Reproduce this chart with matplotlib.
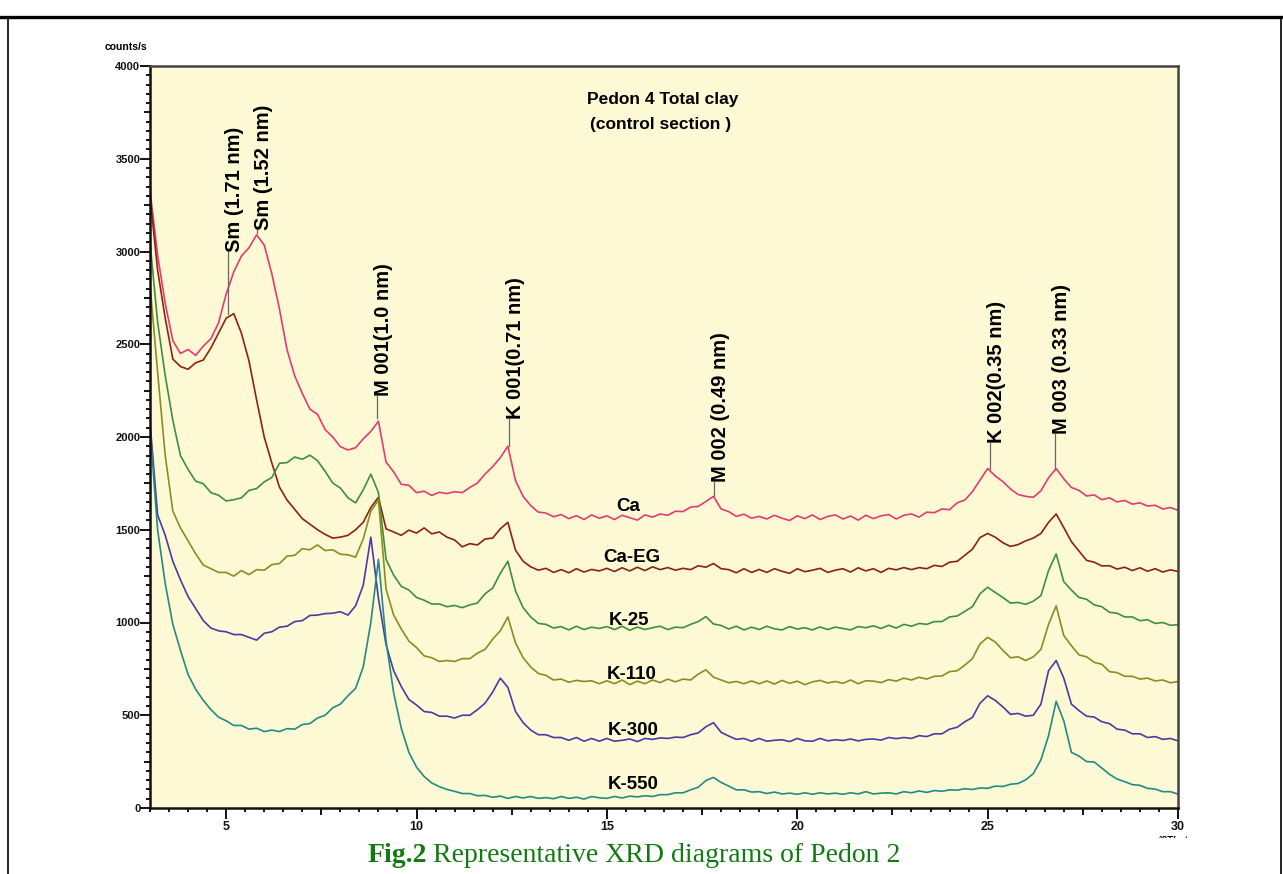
import numpy as np
import matplotlib
matplotlib.use("Agg")
import matplotlib.pyplot as plt
from matplotlib.lines import Line2D
from matplotlib.patches import Rectangle
from matplotlib.ticker import MultipleLocator, FuncFormatter

plt.rcParams['font.family'] = ['Liberation Sans', 'DejaVu Sans']

# scan grid, degrees 2-theta (0.2 step)
two_theta = np.round(np.arange(3.0, 30.001, 0.2), 1)

ca = [3330, 2980, 2720, 2520, 2450, 2472, 2440, 2490, 2530, 2615,
      2770, 2890, 2975, 3020, 3090, 3035, 2880, 2690, 2470, 2330,
      2235, 2150, 2122, 2040, 2000, 1948, 1930, 1942, 1990, 2030,
      2085, 1865, 1812, 1745, 1740, 1700, 1708, 1685, 1702, 1695,
      1705, 1700, 1728, 1752, 1800, 1840, 1888, 1950, 1765, 1680,
      1630, 1595, 1590, 1570, 1582, 1560, 1576, 1555, 1580, 1562,
      1575, 1555, 1578, 1565, 1552, 1580, 1568, 1585, 1578, 1600,
      1598, 1622, 1626, 1652, 1680, 1612, 1598, 1572, 1584, 1562,
      1572, 1558, 1578, 1562, 1550, 1575, 1560, 1580, 1555, 1572,
      1580, 1558, 1574, 1552, 1578, 1560, 1575, 1582, 1558, 1578,
      1585, 1568, 1595, 1592, 1612, 1608, 1645, 1660, 1705, 1768,
      1830, 1790, 1760, 1720, 1690, 1680, 1675, 1710, 1780, 1830,
      1775, 1728, 1712, 1682, 1688, 1662, 1672, 1650, 1658, 1638,
      1645, 1628, 1632, 1612, 1620, 1605]

ca_eg = [3300, 2900, 2640, 2420, 2380, 2365, 2400, 2415, 2480, 2560,
         2640, 2665, 2560, 2410, 2200, 2000, 1860, 1730, 1660, 1610,
         1560, 1530, 1500, 1475, 1455, 1460, 1470, 1500, 1540, 1620,
         1675, 1505, 1488, 1470, 1498, 1482, 1510, 1478, 1488, 1460,
         1445, 1408, 1425, 1418, 1450, 1455, 1505, 1540, 1390, 1330,
         1300, 1282, 1292, 1270, 1285, 1268, 1290, 1272, 1286, 1278,
         1292, 1275, 1295, 1278, 1298, 1280, 1300, 1285, 1296, 1282,
         1292, 1285, 1306, 1298, 1318, 1290, 1285, 1268, 1290, 1270,
         1286, 1270, 1290, 1276, 1265, 1290, 1274, 1282, 1292, 1270,
         1282, 1290, 1272, 1295, 1278, 1290, 1270, 1292, 1284, 1296,
         1285, 1296, 1290, 1308, 1302, 1325, 1330, 1362, 1395, 1458,
         1480, 1460, 1430, 1410, 1420, 1440, 1455, 1480, 1540, 1585,
         1512, 1436, 1385, 1335, 1325, 1305, 1306, 1288, 1298, 1280,
         1295, 1276, 1290, 1272, 1284, 1275]

k25 = [3050, 2620, 2330, 2090, 1900, 1825, 1762, 1748, 1700, 1686,
       1655, 1662, 1672, 1712, 1722, 1758, 1782, 1858, 1862, 1892,
       1880, 1902, 1872, 1815, 1752, 1725, 1672, 1645, 1715, 1800,
       1700, 1340, 1255, 1195, 1175, 1135, 1120, 1100, 1100, 1085,
       1092, 1080, 1095, 1105, 1155, 1185, 1265, 1330, 1170, 1080,
       1030, 995, 990, 970, 978, 960, 980, 962, 975, 968,
       978, 962, 980, 958, 975, 962, 972, 980, 962, 975,
       972, 990, 1005, 1032, 992, 984, 965, 980, 960, 975,
       962, 980, 966, 960, 978, 965, 972, 960, 976, 962,
       975, 968, 960, 978, 972, 982, 968, 985, 970, 990,
       980, 995, 990, 1005, 1005, 1030, 1035, 1060, 1085, 1155,
       1190, 1162, 1135, 1105, 1108, 1098, 1115, 1145, 1280, 1370,
       1220, 1175, 1135, 1125, 1095, 1085, 1055, 1050, 1030, 1030,
       1010, 1015, 995, 1000, 985, 988]

k110 = [2820, 2350, 1900, 1600, 1510, 1440, 1370, 1310, 1290, 1270,
        1270, 1250, 1280, 1258, 1285, 1282, 1312, 1318, 1358, 1362,
        1398, 1392, 1418, 1388, 1392, 1368, 1365, 1352, 1450, 1600,
        1660, 1180, 1040, 965, 900, 865, 820, 810, 790, 795,
        790, 805, 805, 835, 855, 910, 955, 1030, 890, 810,
        760, 725, 715, 690, 695, 678, 688, 682, 686, 670,
        686, 670, 690, 665, 684, 670, 690, 676, 695, 680,
        695, 690, 722, 745, 705, 690, 675, 682, 670, 685,
        670, 685, 668, 688, 672, 684, 665, 680, 688, 674,
        682, 672, 690, 670, 686, 684, 676, 692, 684, 700,
        690, 705, 695, 710, 712, 735, 740, 770, 805, 885,
        920, 895, 850, 810, 815, 795, 815, 855, 990, 1090,
        930, 875, 825, 815, 785, 775, 735, 730, 710, 710,
        695, 700, 685, 690, 675, 682]

k300 = [2080, 1580, 1470, 1330, 1230, 1140, 1075, 1010, 970, 955,
        950, 935, 935, 920, 905, 942, 950, 975, 980, 1005,
        1010, 1038, 1040, 1048, 1050, 1058, 1040, 1090, 1200, 1460,
        1130, 880, 740, 655, 585, 555, 520, 515, 495, 495,
        485, 500, 500, 530, 565, 625, 700, 650, 520, 460,
        420, 395, 395, 380, 380, 365, 380, 360, 375, 360,
        375, 360, 365, 372, 358, 375, 370, 378, 375, 382,
        380, 395, 405, 438, 460, 408, 388, 370, 375, 360,
        375, 360, 365, 368, 358, 375, 362, 360, 375, 362,
        368, 364, 372, 362, 370, 372, 366, 380, 374, 380,
        375, 390, 385, 400, 400, 425, 435, 465, 488, 565,
        605, 580, 545, 505, 510, 495, 500, 560, 740, 795,
        700, 560, 525, 495, 490, 465, 455, 425, 420, 400,
        400, 380, 385, 370, 375, 362]

k550 = [2050, 1500, 1210, 990, 850, 720, 640, 580, 530, 490,
        470, 445, 445, 425, 430, 412, 420, 412, 428, 425,
        450, 455, 485, 500, 540, 560, 605, 645, 760, 1000,
        1340, 900, 620, 430, 300, 220, 170, 135, 115, 100,
        90, 78, 78, 66, 68, 58, 64, 52, 62, 54,
        62, 52, 56, 50, 62, 52, 58, 48, 62, 55,
        52, 62, 54, 64, 60, 66, 62, 72, 72, 82,
        82, 98, 112, 148, 165, 138, 118, 98, 98, 86,
        88, 78, 86, 76, 80, 74, 82, 74, 82, 76,
        80, 74, 82, 76, 88, 76, 80, 82, 76, 88,
        82, 92, 84, 94, 90, 98, 96, 104, 100, 108,
        106, 118, 116, 128, 132, 152, 185, 260, 390, 575,
        470, 300, 280, 250, 248, 215, 182, 156, 142, 126,
        122, 106, 102, 88, 88, 75]

series = [ca, ca_eg, k25, k110, k300, k550]
names = ['Ca', 'Ca-EG', 'K-25', 'K-110', 'K-300', 'K-550']
colors = ['#e43a74', '#8c2212', '#3f8f3c', '#8c8c22', '#4a3aa6', '#238a84']
name_pos = [(15.55, 1623), (15.66, 1353), (15.58, 1013),
            (15.64, 717), (15.70, 420), (15.70, 124)]

# peak labels: line x, line bottom, text bottom, text
peaks = [(5.05, 2665, 2995, 'Sm (1.71 nm)'),
         (5.80, 3100, 3115, 'Sm (1.52 nm)'),
         (8.95, 2100, 2220, 'M 001(1.0 nm)'),
         (12.42, 1950, 2095, 'K 001(0.71 nm)'),
         (17.82, 1680, 1760, 'M 002 (0.49 nm)'),
         (25.05, 1830, 1970, 'K 002(0.35 nm)'),
         (26.76, 1830, 2015, 'M 003 (0.33 nm)')]

fig = plt.figure(figsize=(12.83, 8.74), dpi=100)
ax = fig.add_axes([150/1283, 1-808/874, 1028/1283, 742/874])
ax.set_facecolor('#fdf9d4')

for y, c in zip(series, colors):
    ax.plot(two_theta, y, color=c, lw=1.2)

for (x, y), n in zip(name_pos, names):
    ax.text(x, y, n, fontsize=13.5, fontweight='bold', ha='center', va='center')

for x, yb, yt, t in peaks:
    ax.plot([x, x], [yb, yt], color='#666666', lw=0.9)
    ax.text(x + 0.17, yt, t, rotation=90, fontsize=14.5, fontweight='bold',
            ha='center', va='bottom')

ax.text(16.47, 3817, 'Pedon 4 Total clay', fontsize=12.5, fontweight='bold',
        ha='center', va='center')
ax.text(16.42, 3682, '(control section )', fontsize=12.5, fontweight='bold',
        ha='center', va='center')

ax.set_xlim(3, 30)
ax.set_ylim(0, 4000)

ax.xaxis.set_major_locator(MultipleLocator(2.5))
ax.xaxis.set_minor_locator(MultipleLocator(0.5))
ax.yaxis.set_major_locator(MultipleLocator(250))
ax.yaxis.set_minor_locator(MultipleLocator(50))
ax.xaxis.set_major_formatter(FuncFormatter(lambda v, p: '%d' % v if abs(v % 5) < 1e-6 else ''))
ax.yaxis.set_major_formatter(FuncFormatter(lambda v, p: '%d' % v if abs(v % 500) < 1e-6 else ''))
ax.tick_params(which='both', direction='out', width=1.4, colors='#111111')
ax.tick_params(which='major', length=5, labelsize=8, pad=2)
ax.tick_params(axis='x', which='major', labelsize=9, pad=4)
ax.tick_params(which='minor', length=3)
ax.set_xticks(ax.get_xticks())
ax.set_yticks(ax.get_yticks())
for lab in ax.get_xticklabels() + ax.get_yticklabels():
    lab.set_fontweight('bold')
for t, v in zip(ax.xaxis.get_major_ticks(), ax.get_xticks()):
    t.tick1line.set_markersize(8 if abs(v % 5) < 1e-6 else 5)
for t, v in zip(ax.yaxis.get_major_ticks(), ax.get_yticks()):
    t.tick1line.set_markersize(7 if abs(v % 500) < 1e-6 else 4)
ax.set_xlim(3, 30)
ax.set_ylim(0, 4000)

for s in ['left', 'bottom']:
    ax.spines[s].set_linewidth(1.8)
    ax.spines[s].set_color('#111111')
for s in ['top', 'right']:
    ax.spines[s].set_linewidth(1.8)
    ax.spines[s].set_color('#444444')

fig.text(105/1283, 1-47/874, 'counts/s', fontsize=7.5, fontweight='bold',
         ha='left', va='center')
# axis unit, mostly hidden under the caption strip as in the source figure
fig.text(1176/1283, 1-841/874, '°2Theta', fontsize=7, fontweight='bold',
         ha='center', va='center')
fig.add_artist(Rectangle((1150/1283, 0), 100/1283, 1-838/874,
                         transform=fig.transFigure, color='white', zorder=5))

# caption
green = '#137a13'
fig.text(427/1283, 1-862/874, 'Fig.2', fontsize=20, fontweight='bold',
         color=green, family='Liberation Serif', ha='right', va='baseline')
fig.text(433/1283, 1-862/874, 'Representative XRD diagrams of Pedon 2', fontsize=20,
         color=green, family='Liberation Serif', ha='left', va='baseline')

# page frame
fig.add_artist(Line2D([0, 1], [1-17/874, 1-17/874], color='black', lw=2.4,
                      transform=fig.transFigure))
fig.add_artist(Line2D([8/1283, 8/1283], [0, 1-17/874], color='black', lw=1.2,
                      transform=fig.transFigure))
fig.add_artist(Line2D([1281/1283, 1281/1283], [0, 1-17/874], color='black', lw=1.2,
                      transform=fig.transFigure))

fig.savefig('out.png', dpi=100, facecolor='white')
